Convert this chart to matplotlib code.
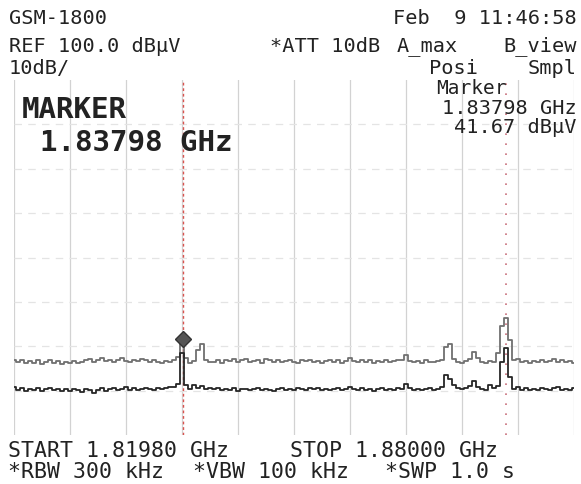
import matplotlib
matplotlib.use("Agg")
import matplotlib.pyplot as plt
import numpy as np

# ── Data ───────────────────────────────────────────────────────────────────
START_GHZ = 1.81980
STOP_GHZ = 1.88000
REF_DBUV = 100.0
DB_PER_DIV = 10
N_DIV_Y = 8
MARKER_GHZ = 1.83798
MARKER_DBUV = 41.67
LINE2_GHZ = 1.87270

# A_max trace (upper), dBuV
trace_a = [
    37.0, 36.4, 36.9, 36.2, 36.7, 36.3, 36.8, 36.1, 36.5, 36.9,
    36.3, 36.6, 36.0, 36.4, 36.2, 36.7, 36.3, 36.5, 36.8, 37.1,
    36.5, 36.9, 37.3, 36.6, 37.0, 36.4, 36.8, 37.4, 36.7, 36.5,
    37.0, 36.6, 37.2, 36.8, 36.4, 36.9, 36.5, 36.3, 36.7, 36.5,
    36.8, 37.6, 41.67, 37.4, 36.3, 36.6, 39.2, 40.6, 37.0, 36.4,
    36.5, 36.8, 36.3, 36.9, 36.6, 37.2, 36.5, 36.8, 37.1, 36.4,
    36.7, 36.9, 36.3, 37.2, 36.8, 36.5, 36.9, 36.4, 36.7, 37.0,
    36.5, 36.3, 36.8, 36.6, 37.0, 36.4, 36.7, 36.3, 36.6, 36.9,
    36.5, 36.8, 36.3, 36.7, 37.3, 36.6, 36.4, 36.9, 36.5, 36.8,
    36.3, 36.7, 36.5, 36.9, 36.4, 36.6, 36.8, 37.0, 38.1, 36.7,
    36.4, 36.6, 36.3, 36.8, 36.5, 36.4, 36.7, 37.0, 39.8, 40.5,
    37.2, 36.5, 36.3, 36.6, 37.2, 38.6, 37.3, 36.5, 36.3, 36.7,
    36.5, 38.5, 44.5, 46.4, 41.5, 36.8, 37.2, 36.4, 36.6, 36.3,
    36.7, 36.5, 36.9, 36.4, 36.6, 37.1, 36.5, 36.8, 36.4, 36.7, 36.3,
]

# B_view trace (lower), dBuV
trace_b = [
    30.8, 30.2, 30.5, 29.9, 30.4, 30.1, 30.6, 30.0, 30.3, 30.5,
    30.1, 30.4, 29.9, 30.3, 30.0, 30.4, 30.2, 29.8, 30.3, 30.1,
    29.4, 30.2, 30.5, 30.0, 30.3, 30.6, 30.1, 30.4, 30.8, 30.2,
    30.5, 30.1, 30.4, 30.7, 30.3, 30.2, 30.5, 30.3, 30.6, 30.9,
    30.8, 31.6, 38.5, 31.2, 30.4, 31.3, 30.6, 31.0, 30.4, 30.7,
    30.3, 30.6, 30.1, 30.4, 30.2, 30.5, 30.0, 30.3, 30.4, 30.1,
    30.3, 30.5, 30.1, 30.4, 30.2, 30.0, 30.3, 30.5, 30.1, 30.4,
    30.2, 30.6, 30.3, 30.1, 30.5, 30.3, 30.7, 30.2, 30.4, 30.1,
    30.3, 30.5, 30.2, 30.4, 30.9, 30.3, 30.1, 30.5, 30.2, 30.4,
    30.0, 30.3, 30.5, 30.1, 30.4, 30.2, 30.6, 30.3, 31.4, 30.5,
    30.2, 30.4, 30.1, 30.3, 30.5, 30.2, 30.4, 30.8, 33.5, 32.6,
    31.3, 30.6, 30.3, 30.5, 31.0, 32.2, 30.8, 30.4, 30.2, 31.2,
    30.5, 31.0, 36.5, 39.5, 33.0, 30.4, 30.9, 30.2, 30.5, 30.1,
    30.4, 30.2, 30.6, 30.3, 30.1, 30.5, 30.8, 30.2, 30.4, 30.1, 30.6,
]

# ── Style ──────────────────────────────────────────────────────────────────
W, H = 581, 484
TEXT = "#222222"
GRID_V = "#d2d2d2"
GRID_H = "#e4e4e4"
TRACE_A = "#707070"
TRACE_B = "#262626"
RED = "#d9534f"
MONO = "DejaVu Sans Mono"
FS = 14.6

fig = plt.figure(figsize=(W / 100, H / 100), dpi=100)
fig.patch.set_facecolor("white")

# plot area in pixels: x 14..574, y 80..435
left, right, top, bottom = 14, 574, 80, 435
ax = fig.add_axes([left / W, 1 - bottom / H, (right - left) / W, (bottom - top) / H])
ax.set_facecolor("white")
for s in ax.spines.values():
    s.set_visible(False)

bottom_db = REF_DBUV - DB_PER_DIV * N_DIV_Y
ax.set_xlim(START_GHZ, STOP_GHZ)
ax.set_ylim(bottom_db, REF_DBUV)
xt = np.linspace(START_GHZ, STOP_GHZ, 11)
yt = np.arange(bottom_db, REF_DBUV + 1, DB_PER_DIV)
for v in xt:
    ax.axvline(v, color=GRID_V, lw=0.9, zorder=1)
for v in yt[1:-1]:
    ax.axhline(v, color=GRID_H, lw=0.9, ls=(0, (6, 5)), zorder=1)
ax.set_xticks([])
ax.set_yticks([])

freqs = np.linspace(START_GHZ, STOP_GHZ, len(trace_a))
ax.plot(freqs, trace_a, color=TRACE_A, lw=1.3, drawstyle="steps-mid", zorder=3)
ax.plot(freqs, trace_b, color=TRACE_B, lw=1.3, drawstyle="steps-mid", zorder=3)

ax.axvline(MARKER_GHZ, color=RED, lw=1.0, ls=(0, (2, 2)), zorder=2)
ax.axvline(LINE2_GHZ, color="#c8707c", lw=1.2, ls=(0, (1, 5)), zorder=2)
ax.plot([MARKER_GHZ], [MARKER_DBUV], marker="D", ms=8, color="#555555",
        mec="#333333", zorder=4)


def txt(x, y, s, size=FS, ha="left", weight="normal"):
    fig.text(x / W, 1 - y / H, s, fontsize=size, ha=ha, va="center",
             family=MONO, color=TEXT, weight=weight)


# header
txt(9, 19, "GSM-1800")
txt(577, 19, "Feb  9 11:46:58", ha="right")
txt(9, 46, "REF 100.0 dB\u03bcV")
txt(270, 46, "*ATT 10dB")
txt(397, 46, "A_max")
txt(577, 46, "B_view", ha="right")
txt(9, 69, "10dB/")
txt(429, 69, "Posi")
txt(577, 69, "Smpl", ha="right")

# marker readout
txt(471, 89, "Marker", size=14, ha="center")
txt(577, 108, "1.83798 GHz", ha="right")
txt(577, 127, "41.67 dB\u03bcV", ha="right")
txt(22, 110, "MARKER", size=21, weight="bold")
txt(40, 143, "1.83798 GHz", size=21, weight="bold")

# footer
txt(8, 451, "START 1.81980 GHz", size=15.5)
txt(290, 451, "STOP 1.88000 GHz", size=15.5)
txt(8, 472, "*RBW 300 kHz", size=15.5)
txt(193, 472, "*VBW 100 kHz", size=15.5)
txt(385, 472, "*SWP 1.0 s", size=15.5)

fig.savefig("out.png", dpi=100, facecolor="white")
